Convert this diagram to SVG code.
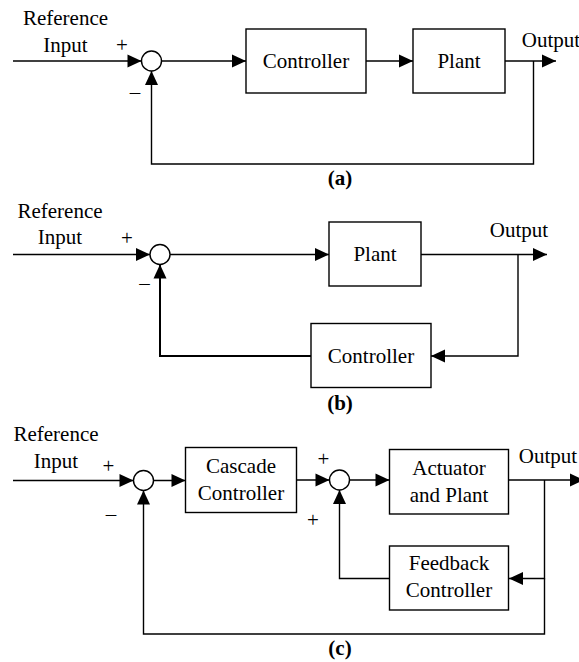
<svg xmlns="http://www.w3.org/2000/svg" width="579" height="662" viewBox="0 0 579 662">
<defs>
<marker id="ah" markerUnits="userSpaceOnUse" markerWidth="14" markerHeight="13" refX="14" refY="6.5" orient="auto" overflow="visible">
<path d="M0,0 L14,6.5 L0,13 z" fill="#000"/>
</marker>
<style>
text{font-family:"Liberation Serif","Times New Roman",serif;font-size:21px;fill:#000;text-anchor:middle}
.cap{font-weight:bold}
.box{fill:#fff;stroke:#000;stroke-width:1.4}
.sum{fill:#fff;stroke:#000;stroke-width:1.4}
.ln{fill:none;stroke:#000;stroke-width:1.4}
.ar{marker-end:url(#ah)}
</style>
</defs>
<rect width="579" height="662" fill="#fff"/>

<!-- connectors -->
<g id="connectors">
<!-- (a) -->
<path class="ln ar" d="M13,61 H141.5"/>
<path class="ln ar" d="M161.5,61 H246"/>
<path class="ln ar" d="M366,61 H413"/>
<path class="ln ar" d="M505,61 H556"/>
<path class="ln ar" d="M533.5,61 V164 H151.5 V71"/>
<!-- (b) -->
<path class="ln ar" d="M13,254.5 H150"/>
<path class="ln ar" d="M170,254.5 H329"/>
<path class="ln ar" d="M421,254.5 H547"/>
<path class="ln ar" d="M518,254.5 V356 H431"/>
<path class="ln ar" style="stroke-width:2" d="M311,356 H160 V264.5"/>
<!-- (c) -->
<path class="ln ar" d="M13,480.5 H133.5"/>
<path class="ln ar" d="M153.5,480.5 H185.5"/>
<path class="ln ar" d="M296.5,480 H329.5"/>
<path class="ln ar" d="M349.5,480 H389.5"/>
<path class="ln ar" d="M508.5,480 H584"/>
<path class="ln ar" d="M544.5,480 V578.5 H509"/>
<path class="ln ar" d="M389.5,578.5 H339.5 V490"/>
<path class="ln ar" d="M544.5,578.5 V634 H143.5 V490.5"/>
</g>

<!-- (a) -->
<g id="a-labels">
<text x="65.5" y="25">Reference</text>
<text x="65.5" y="52">Input</text>
<text x="122" y="52">+</text>
<text x="135" y="99">–</text>
<text x="551" y="47" text-anchor="middle">Output</text>
<text class="cap" x="340" y="185">(a)</text>
</g>
<g id="a-sum"><circle class="sum" cx="151.5" cy="61" r="10"/></g>
<g id="a-controller"><rect class="box" x="246" y="29" width="120" height="64"/><text x="306" y="68">Controller</text></g>
<g id="a-plant"><rect class="box" x="413" y="29" width="92" height="64"/><text x="459" y="68">Plant</text></g>

<!-- (b) -->
<g id="b-labels">
<text x="60" y="218">Reference</text>
<text x="60" y="244">Input</text>
<text x="127" y="245">+</text>
<text x="144.5" y="290">–</text>
<text x="519" y="237">Output</text>
<text class="cap" x="340" y="410">(b)</text>
</g>
<g id="b-sum"><circle class="sum" cx="160" cy="254.5" r="10"/></g>
<g id="b-plant"><rect class="box" x="329" y="222" width="92" height="64"/><text x="375" y="261">Plant</text></g>
<g id="b-controller"><rect class="box" x="311" y="323.5" width="120" height="64"/><text x="371" y="363">Controller</text></g>

<!-- (c) -->
<g id="c-labels">
<text x="56" y="441">Reference</text>
<text x="56" y="467.5">Input</text>
<text x="108.5" y="473">+</text>
<text x="111" y="521">–</text>
<text x="323.5" y="465.5">+</text>
<text x="313" y="526.5">+</text>
<text x="548" y="463">Output</text>
<text class="cap" x="340" y="655">(c)</text>
</g>
<g id="c-sum1"><circle class="sum" cx="143.5" cy="480.5" r="10"/></g>
<g id="c-cascade"><rect class="box" x="185.5" y="447.5" width="111" height="65"/><text x="241" y="473">Cascade</text><text x="241" y="500">Controller</text></g>
<g id="c-sum2"><circle class="sum" cx="339.5" cy="480" r="10"/></g>
<g id="c-actuator"><rect class="box" x="389.5" y="449.5" width="119" height="64.5"/><text x="449" y="475">Actuator</text><text x="449" y="501.5">and Plant</text></g>
<g id="c-feedback"><rect class="box" x="389.5" y="546" width="119" height="64"/><text x="449" y="570">Feedback</text><text x="449" y="597">Controller</text></g>
</svg>
